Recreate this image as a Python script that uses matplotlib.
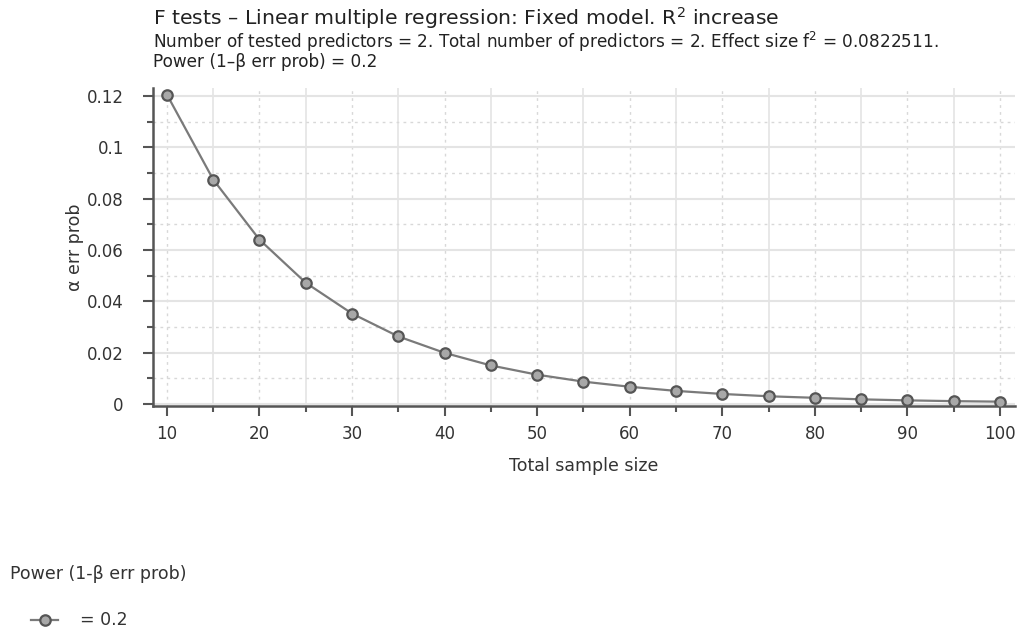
import numpy as np
import matplotlib.pyplot as plt
from matplotlib.ticker import MultipleLocator, FixedLocator
from matplotlib.lines import Line2D

# DATA
sample_size = [10, 15, 20, 25, 30, 35, 40, 45, 50, 55, 60, 65, 70, 75, 80, 85, 90, 95, 100]
alpha_err = [0.1205, 0.0874, 0.0640, 0.0472, 0.0352, 0.0263, 0.0199, 0.0150, 0.0114,
             0.0087, 0.0067, 0.0051, 0.0039, 0.0030, 0.0024, 0.0018, 0.0014, 0.0011, 0.0009]
power_label = "= 0.2"

title = "F tests \u2013 Linear multiple regression: Fixed model. R$^2$ increase"
subtitle1 = ("Number of tested predictors = 2. Total number of predictors = 2. "
             "Effect size f$^2$ = 0.0822511.")
subtitle2 = "Power (1\u2013\u03b2 err prob) = 0.2"

FONT = "DejaVu Sans"
TXT = "#333333"

# PLOTTING
fig = plt.figure(figsize=(10.23, 6.37), dpi=100)
ax = fig.add_axes([0.1496, 0.3626, 0.8424, 0.4994])

ax.plot(sample_size, alpha_err, color="#7a7a7a", lw=1.6, marker="o", ms=7.5,
        mfc="#a8a8a8", mec="#555555", mew=1.6, zorder=3)

ax.set_xlim(8.5, 101.6)
ax.set_ylim(-0.0008, 0.1231)

ax.xaxis.set_major_locator(MultipleLocator(10))
ax.xaxis.set_minor_locator(FixedLocator(np.arange(15, 100, 10)))
ax.yaxis.set_minor_locator(MultipleLocator(0.01))
ax.set_yticks([0, 0.02, 0.04, 0.06, 0.08, 0.1, 0.12])
ax.set_yticklabels(["0", "0.02", "0.04", "0.06", "0.08", "0.1", "0.12"])

# grid: x majors dotted, x minors solid; y majors solid, y minors dotted
ax.grid(axis="x", which="major", color="#d8d8d8", ls=(0, (2, 3)), lw=1)
ax.grid(axis="x", which="minor", color="#e4e4e4", ls="-", lw=1.2)
ax.grid(axis="y", which="major", color="#e4e4e4", ls="-", lw=1.5)
ax.grid(axis="y", which="minor", color="#d8d8d8", ls=(0, (2, 3)), lw=1)
ax.set_axisbelow(True)

for s in ["top", "right"]:
    ax.spines[s].set_visible(False)
for s in ["left", "bottom"]:
    ax.spines[s].set_color("#555555")
    ax.spines[s].set_linewidth(1.8)

ax.tick_params(which="major", direction="out", length=7, width=1.5, color="#555555",
               labelsize=12, labelcolor=TXT)
ax.tick_params(axis="x", which="major", pad=7)
ax.tick_params(axis="y", which="major", pad=14)
ax.tick_params(which="minor", direction="out", length=4, width=1.5, color="#555555")
for lab in ax.get_xticklabels() + ax.get_yticklabels():
    lab.set_family(FONT)

ax.set_xlabel("Total sample size", family=FONT, fontsize=12.5, color=TXT, labelpad=10)
ax.set_ylabel("\u03b1 err prob", family=FONT, fontsize=12.5, color=TXT, labelpad=2)

fig.text(0.1496, 0.972, title, family=FONT, fontsize=14.7, color="#222222", va="center")
fig.text(0.1496, 0.934, subtitle1, family=FONT, fontsize=12.2, color="#222222", va="center")
fig.text(0.1496, 0.902, subtitle2, family=FONT, fontsize=12.2, color="#222222", va="center")

# legend at bottom
fig.text(0.01, 0.099, "Power (1-\u03b2 err prob)", family=FONT,
         fontsize=12.5, color=TXT, va="center")
leg_line = Line2D([0.03, 0.057], [0.027, 0.027], transform=fig.transFigure,
                  color="#7a7a7a", lw=1.6)
leg_mark = Line2D([0.0435], [0.027], transform=fig.transFigure, marker="o", ms=7.5,
                  mfc="#a8a8a8", mec="#555555", mew=1.6, lw=0)
fig.add_artist(leg_line)
fig.add_artist(leg_mark)
fig.text(0.078, 0.027, power_label, family=FONT, fontsize=12.5, color=TXT, va="center")

fig.savefig("out.png", dpi=100)
